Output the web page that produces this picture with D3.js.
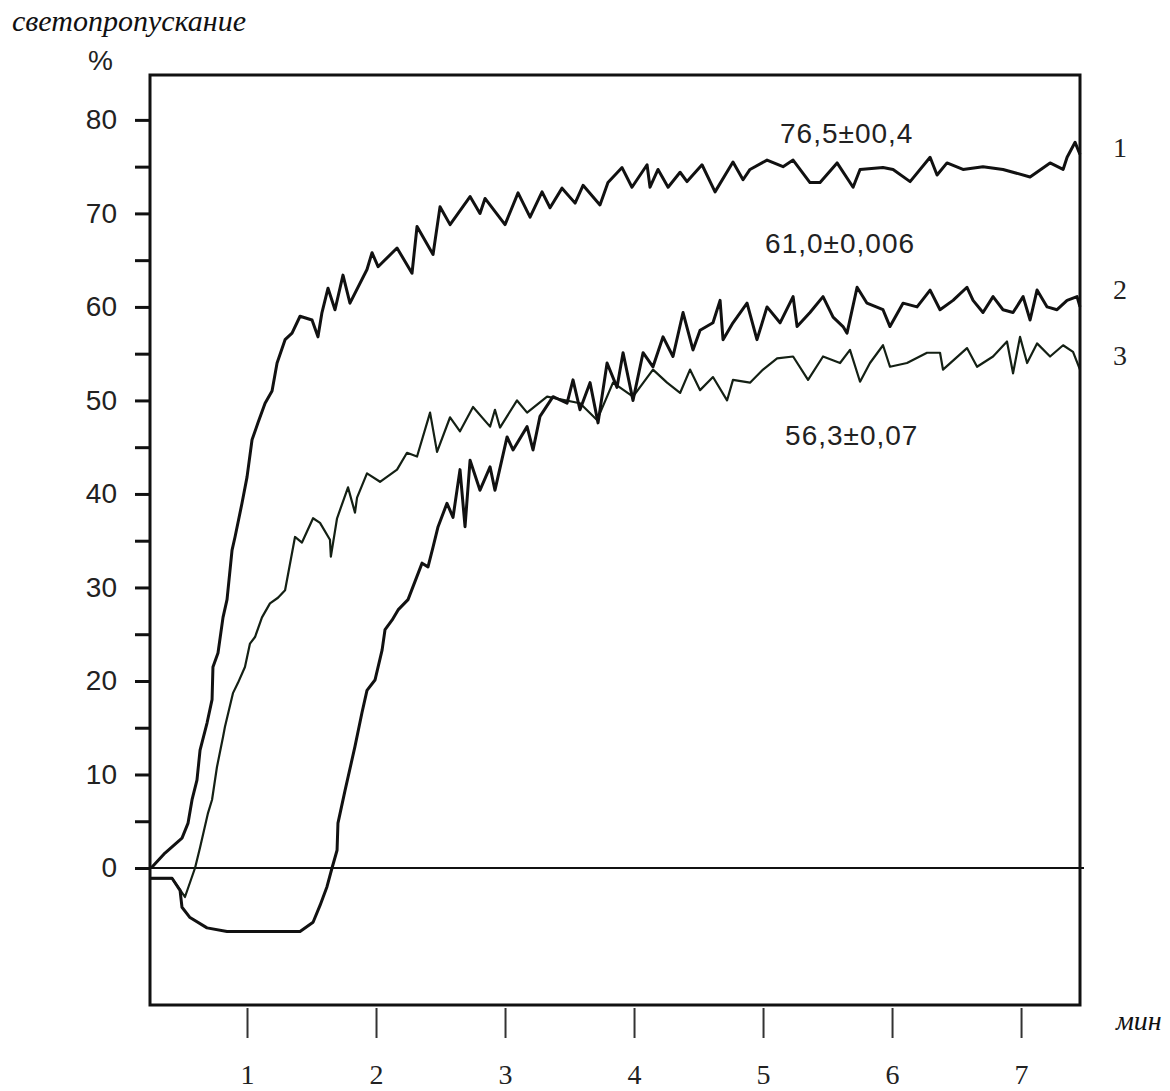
<!DOCTYPE html>
<html>
<head>
<meta charset="utf-8">
<script src="https://cdn.jsdelivr.net/npm/d3@7"></script>
<style>
  body { margin: 0; background: #fff; }
  svg { display: block; }
</style>
</head>
<body>
<div id="svgcontainer"></div>
<script>
var width = 1170;
var height = 1091;

// curve 1 : [min, %]
var curve1 = [[0.248,0],[0.264,0.1],[0.364,1.6],[0.496,3.2],[0.543,4.8],[0.574,7.3],[0.612,9.4],[0.636,12.6],[0.690,15.5],[0.729,18],[0.736,21.5],[0.775,23],[0.814,26.8],[0.845,28.7],[0.884,34],[0.907,35.4],[0.961,39],[1.0,41.8],[1.039,45.8],[1.085,47.6],[1.140,49.7],[1.194,51],[1.233,54],[1.295,56.5],[1.349,57.2],[1.411,59],[1.504,58.6],[1.550,56.8],[1.581,59.4],[1.628,62],[1.682,59.7],[1.744,63.4],[1.798,60.4],[1.930,64],[1.969,65.8],[2.016,64.3],[2.163,66.3],[2.279,63.6],[2.318,68.6],[2.442,65.6],[2.496,70.7],[2.574,68.8],[2.729,71.8],[2.806,70],[2.845,71.6],[3.0,68.8],[3.101,72.2],[3.194,69.6],[3.287,72.3],[3.349,70.6],[3.442,72.7],[3.543,71.1],[3.605,73],[3.736,70.9],[3.798,73.3],[3.907,74.9],[3.984,72.8],[4.101,75.2],[4.124,72.8],[4.186,74.7],[4.264,72.8],[4.357,74.4],[4.411,73.4],[4.527,75.2],[4.628,72.3],[4.767,75.5],[4.845,73.6],[4.899,74.7],[5.031,75.7],[5.155,75],[5.233,75.7],[5.364,73.3],[5.442,73.3],[5.574,75.4],[5.674,73.3],[5.698,72.8],[5.752,74.7],[5.930,74.9],[6.008,74.7],[6.140,73.4],[6.295,76],[6.349,74.1],[6.426,75.4],[6.550,74.7],[6.705,75],[6.860,74.7],[7.070,73.9],[7.225,75.4],[7.326,74.7],[7.357,76],[7.419,77.6],[7.457,76.3]];

// curve 2
var curve2 = [[0.248,-1.1],[0.419,-1.1],[0.481,-2.4],[0.496,-4.2],[0.558,-5.3],[0.690,-6.4],[0.845,-6.8],[1.411,-6.8],[1.512,-5.8],[1.566,-4],[1.620,-2],[1.659,0],[1.698,1.9],[1.705,4.8],[1.760,8.3],[1.837,13],[1.891,16.6],[1.930,19],[1.992,20.1],[2.047,23.3],[2.070,25.5],[2.124,26.5],[2.171,27.6],[2.248,28.7],[2.357,32.6],[2.403,32.2],[2.442,34.3],[2.481,36.5],[2.550,39],[2.597,37.5],[2.651,42.6],[2.690,36.5],[2.729,43.6],[2.806,40.4],[2.884,42.9],[2.922,40.4],[3.016,46.1],[3.062,44.7],[3.171,47.2],[3.217,44.7],[3.271,48.3],[3.372,50.4],[3.481,49.7],[3.527,52.2],[3.581,49],[3.659,51.9],[3.721,47.6],[3.791,54],[3.868,51.4],[3.915,55.1],[3.992,50],[4.07,55.1],[4.147,53.6],[4.225,56.8],[4.302,54.7],[4.380,59.4],[4.457,55.4],[4.512,57.5],[4.612,58.3],[4.667,60.7],[4.690,56.5],[4.767,58.3],[4.876,60.4],[4.953,56.5],[5.031,60],[5.132,58.3],[5.233,61.1],[5.264,57.9],[5.364,59.4],[5.465,61.1],[5.543,58.9],[5.620,57.9],[5.651,57.2],[5.729,62.1],[5.806,60.4],[5.930,59.7],[5.984,57.9],[6.085,60.4],[6.194,60],[6.295,61.8],[6.372,59.7],[6.473,60.7],[6.581,62.1],[6.628,60.7],[6.705,59.4],[6.783,61.1],[6.860,59.7],[6.938,59.4],[7.016,61.1],[7.070,58.6],[7.124,61.8],[7.202,60],[7.279,59.7],[7.357,60.7],[7.434,61.1],[7.457,60]];

// curve 3
var curve3 = [[0.248,-1.1],[0.419,-1.1],[0.519,-3.1],[0.597,0],[0.636,2.2],[0.698,5.9],[0.729,7.3],[0.767,10.8],[0.814,14],[0.829,15.1],[0.891,18.7],[0.930,19.8],[0.984,21.5],[1.023,24],[1.062,24.7],[1.116,26.8],[1.178,28.3],[1.240,28.9],[1.295,29.7],[1.372,35.4],[1.426,34.8],[1.512,37.4],[1.566,36.9],[1.643,35.1],[1.650,33.3],[1.698,37.4],[1.783,40.7],[1.837,38],[1.853,39.6],[1.930,42.2],[2.031,41.3],[2.163,42.6],[2.240,44.4],[2.318,44],[2.419,48.7],[2.473,44.5],[2.574,48.2],[2.651,46.7],[2.752,49.3],[2.884,47.2],[2.922,49],[2.961,47.1],[3.093,50],[3.171,48.7],[3.326,50.4],[3.581,49.7],[3.713,47.9],[3.837,51.9],[3.992,50.4],[4.147,53.3],[4.256,51.9],[4.357,50.8],[4.434,53.3],[4.512,51.1],[4.612,52.5],[4.721,50],[4.767,52.2],[4.899,51.9],[5.0,53.3],[5.109,54.5],[5.233,54.7],[5.349,52.2],[5.465,54.7],[5.597,54],[5.674,55.4],[5.752,52],[5.829,54],[5.930,55.9],[5.984,53.6],[6.116,54],[6.271,55.1],[6.372,55.1],[6.395,53.3],[6.581,55.6],[6.659,53.6],[6.783,54.7],[6.891,56.3],[6.938,52.9],[6.992,56.8],[7.047,54],[7.124,56.1],[7.225,54.7],[7.326,55.9],[7.403,55.2],[7.457,53.3]];

var xTicks = [1, 2, 3, 4, 5, 6, 7];
var yTicks = [0, 5, 10, 15, 20, 25, 30, 35, 40, 45, 50, 55, 60, 65, 70, 75, 80];

// value labels: [min, %, text]
var valueLabels = [[5.132, 77.5, "76,5±00,4"], [5.016, 65.8, "61,0±0,006"], [5.171, 45.2, "56,3±0,07"]];
// curve numbers at the right
var curveNames = [[76.0, "1"], [60.8, "2"], [53.8, "3"]];

var svg = d3.select("#svgcontainer")
    .append("svg")
    .attr("width", width)
    .attr("height", height);

var x = d3.scaleLinear().domain([0.248, 7.457]).range([150, 1080]);
var y = d3.scaleLinear().domain([-14.65, 84.8]).range([1005, 75]);

// zero line
svg.append("line")
  .attr("x1", x(0.248))
  .attr("x2", x(7.457) + 4)
  .attr("y1", y(0))
  .attr("y2", y(0))
  .style("stroke", "#111")
  .style("stroke-width", 2.2);

// curves
var line = d3.line()
  .x(function(d){ return x(d[0]); })
  .y(function(d){ return y(d[1]); });

svg.append("path").datum(curve3)
  .attr("d", line)
  .style("fill", "none")
  .style("stroke", "#142014")
  .style("stroke-width", 2.2)
  .style("stroke-linejoin", "round");

svg.append("path").datum(curve2)
  .attr("d", line)
  .style("fill", "none")
  .style("stroke", "#111")
  .style("stroke-width", 3)
  .style("stroke-linejoin", "round");

svg.append("path").datum(curve1)
  .attr("d", line)
  .style("fill", "none")
  .style("stroke", "#111")
  .style("stroke-width", 3)
  .style("stroke-linejoin", "round");

// frame
svg.append("rect")
  .attr("x", 150)
  .attr("y", 75)
  .attr("width", 930)
  .attr("height", 930)
  .style("fill", "none")
  .style("stroke", "#111")
  .style("stroke-width", 3);

// y axis
var yAxis = d3.axisLeft(y)
  .tickValues(yTicks)
  .tickSize(15)
  .tickPadding(18)
  .tickFormat(function(d){ return d % 10 === 0 ? d : ""; });

var gy = svg.append("g")
  .attr("transform", "translate(150,0)")
  .call(yAxis);
gy.select(".domain").remove();
gy.selectAll(".tick line").style("stroke", "#111").style("stroke-width", 3);
gy.selectAll(".tick text")
  .style("font-family", "'Liberation Sans', Arial, sans-serif")
  .style("font-size", "28px")
  .style("fill", "#222");

// x axis
var xAxis = d3.axisBottom(x)
  .tickValues(xTicks)
  .tickSize(30)
  .tickPadding(26)
  .tickFormat(d3.format("d"));

var gx = svg.append("g")
  .attr("transform", "translate(0,1008)")
  .call(xAxis);
gx.select(".domain").remove();
gx.selectAll(".tick line").style("stroke", "#333").style("stroke-width", 2);
gx.selectAll(".tick text")
  .style("font-family", "'Liberation Serif', 'Times New Roman', serif")
  .style("font-size", "28px")
  .style("fill", "#222");

// titles
svg.append("text")
  .attr("x", 12)
  .attr("y", 31)
  .style("font-family", "'Liberation Serif', 'Times New Roman', serif")
  .style("font-style", "italic")
  .style("font-size", "30px")
  .style("fill", "#111")
  .text("светопропускание");

svg.append("text")
  .attr("x", 88)
  .attr("y", 70)
  .style("font-family", "'Liberation Sans', Arial, sans-serif")
  .style("font-size", "28px")
  .style("fill", "#222")
  .text("%");

svg.append("text")
  .attr("x", 1116)
  .attr("y", 1030)
  .style("font-family", "'Liberation Serif', 'Times New Roman', serif")
  .style("font-style", "italic")
  .style("font-size", "28px")
  .style("fill", "#111")
  .text("мин");

// value labels
svg.selectAll(".vlabel")
  .data(valueLabels)
  .enter().append("text")
  .attr("class", "vlabel")
  .attr("x", function(d){ return x(d[0]); })
  .attr("y", function(d){ return y(d[1]); })
  .style("font-family", "'Liberation Sans', Arial, sans-serif")
  .style("font-size", "28px")
  .style("letter-spacing", "1px")
  .style("fill", "#222")
  .text(function(d){ return d[2]; });

// curve numbers
svg.selectAll(".cname")
  .data(curveNames)
  .enter().append("text")
  .attr("class", "cname")
  .attr("x", 1113)
  .attr("y", function(d){ return y(d[0]); })
  .style("font-family", "'Liberation Serif', 'Times New Roman', serif")
  .style("font-size", "28px")
  .style("fill", "#222")
  .text(function(d){ return d[1]; });
</script>
</body>
</html>
